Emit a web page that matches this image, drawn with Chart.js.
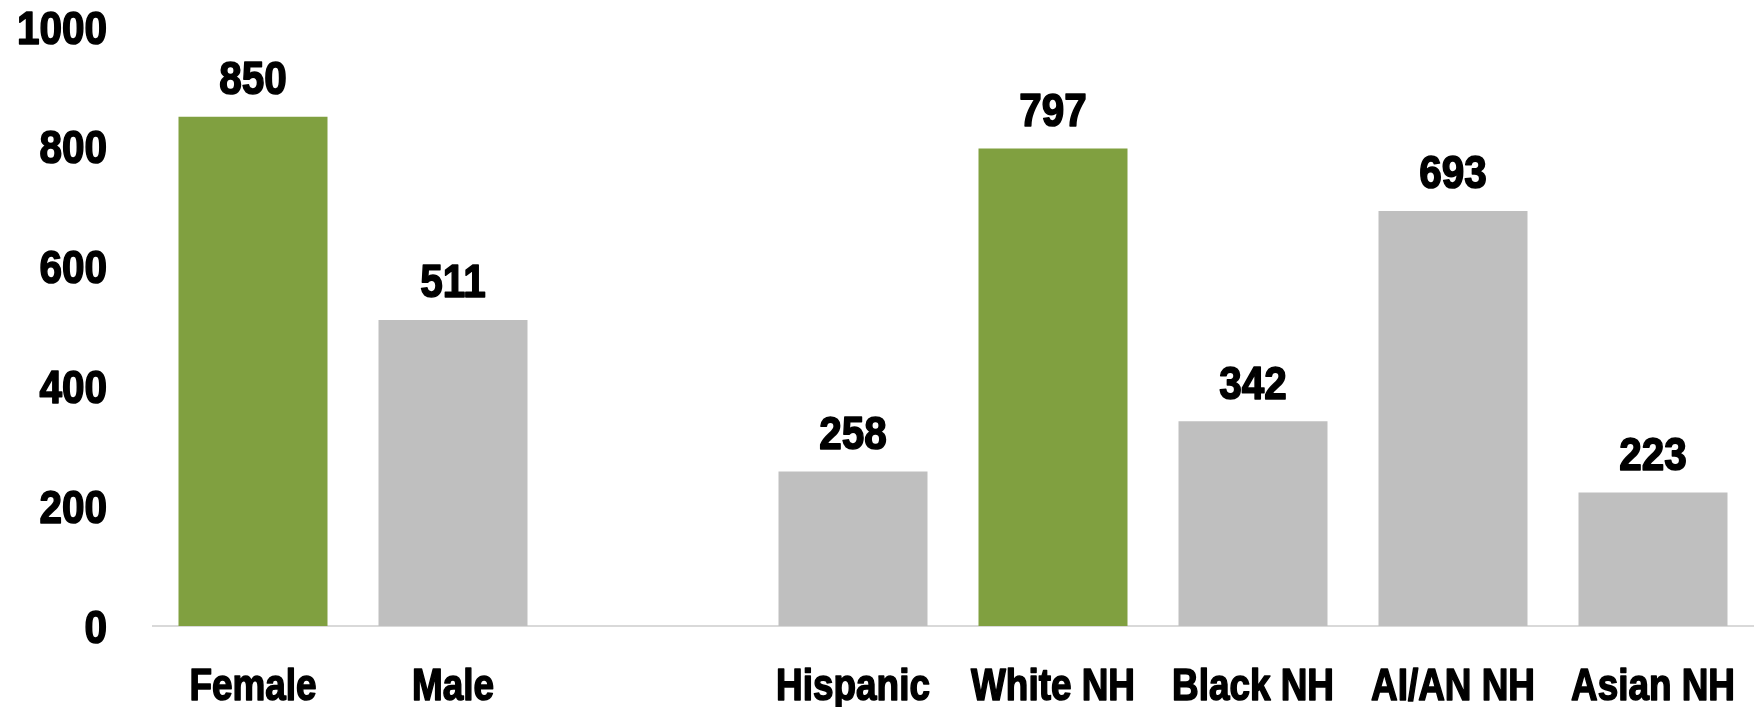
<!DOCTYPE html>
<html>
<head>
<meta charset="utf-8">
<script src="https://cdn.jsdelivr.net/npm/chart.js@4"></script>
<style>
  html, body { margin: 0; padding: 0; background: #fff; }
  #wrap { width: 1759px; height: 707px; }
</style>
</head>
<body>
<div id="wrap"><canvas id="chart" width="1759" height="707"></canvas></div>
<script>
// Data (empty slot keeps the gap between sex and race groups)
const categories = ["Female", "Male", "", "Hispanic", "White NH", "Black NH", "AI/AN NH", "Asian NH"];
const values = [850, 511, null, 258, 797, 342, 693, 223];
const highlight = [true, false, false, false, true, false, false, false];
const yTicks = [0, 200, 400, 600, 800, 1000];

const GREEN = "#80A040";
const GRAY = "#BFBFBF";
const FONT = "'Liberation Sans', Arial, sans-serif";

// draw text squeezed horizontally (the original uses a heavy condensed face)
function squeezed(ctx, text, x, y, size, sx, align) {
    ctx.save();
    ctx.font = "bold " + size + "px " + FONT;
    ctx.textAlign = align;
    ctx.textBaseline = "alphabetic";
    ctx.fillStyle = "#000";
    ctx.strokeStyle = "#000";
    ctx.lineWidth = 1.6;
    ctx.lineJoin = "round";
    ctx.translate(x, y);
    ctx.scale(sx, 1);
    ctx.fillText(text, 0, 0);
    ctx.strokeText(text, 0, 0);
    ctx.restore();
}

// Tick labels, category labels and value labels
const textLayer = {
    id: "textLayer",
    afterDraw(chart) {
        const ctx = chart.ctx;
        const xs = chart.scales.x;
        const ys = chart.scales.y;
        const meta = chart.getDatasetMeta(0);

        yTicks.forEach(v => {
            squeezed(ctx, String(v), 107, ys.getPixelForValue(v) + 16.5, 46, 0.88, "right");
        });

        categories.forEach((c, i) => {
            if (!c) return;
            squeezed(ctx, c, xs.getPixelForValue(i), 700, 45, 0.82, "center");
        });

        meta.data.forEach((bar, i) => {
            if (values[i] == null) return;
            squeezed(ctx, String(values[i]), bar.x, bar.y - 22.5, 46, 0.88, "center");
        });
    }
};

const ctx = document.getElementById("chart").getContext("2d");
new Chart(ctx, {
    type: "bar",
    data: {
        labels: categories,
        datasets: [{
            data: values,
            backgroundColor: highlight.map(h => h ? GREEN : GRAY),
            borderWidth: 0,
            barPercentage: 0.745,
            categoryPercentage: 1
        }]
    },
    options: {
        responsive: false,
        animation: false,
        layout: { padding: { top: 27, right: 6, left: 0, bottom: 0 } },
        plugins: {
            legend: { display: false },
            tooltip: { enabled: false }
        },
        scales: {
            y: {
                min: 0,
                max: 1000,
                afterBuildTicks: axis => { axis.ticks = yTicks.map(v => ({ value: v })); },
                afterFit: axis => { axis.width = 153; axis.paddingTop = 0; axis.paddingBottom = 0; },
                grid: { display: false },
                border: { display: false },
                ticks: { display: false }
            },
            x: {
                afterFit: axis => { axis.height = 81; axis.paddingLeft = 0; axis.paddingRight = 0; },
                grid: { display: false },
                border: { display: true, color: "#D9D9D9", width: 2 },
                ticks: { display: false }
            }
        }
    },
    plugins: [textLayer]
});
</script>
</body>
</html>
